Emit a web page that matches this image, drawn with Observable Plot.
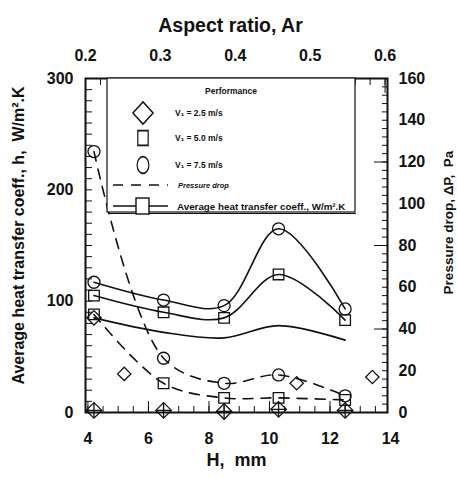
<!DOCTYPE html>
<html><head><meta charset="utf-8">
<script src="https://cdn.jsdelivr.net/npm/d3@7"></script>
<script src="https://cdn.jsdelivr.net/npm/@observablehq/plot@0.6"></script>
<style>body{margin:0;background:#fff} svg{display:block}</style>
</head><body><div id="chart"></div>
<script>
// ---- data ----
const H = [4.2, 6.5, 8.5, 10.3, 12.5];
const h75 = [117, 101, 96, 165, 93];
const h50 = [105, 90, 85, 124, 83];
const h25 = [85, 72, 67, 78, 65];
const dp75 = [125, 26, 14, 18, 8];
const dp50 = [47, 14, 7, 7, 6];
const dp25 = [1, 1, 0.5, 1.5, 1];
const extraH = [5.2, 10.9, 13.4];
const extraDp = [18.5, 14, 17];
const xTicks = [4, 6, 8, 10, 12, 14];
const hTicks = [0, 100, 200, 300];
const dpTicks = [0, 20, 40, 60, 80, 100, 120, 140, 160];
const arTicks = [0.2, 0.3, 0.4, 0.5, 0.6];
const legendLabels = ["V\u2081 = 2.5 m/s", "V\u2081 = 5.0 m/s", "V\u2081 = 7.5 m/s", "Pressure drop", "Average heat transfer coeff., W/m\u00b2.K"];

// ---- scale helpers ----
const dpToY = p => p * 300 / 160;
const yToDp = y => y * 160 / 300;
const arToH = a => 3.92 + (a - 0.2) * 24.75;
const hToAr = x => (x - 3.92) / 24.75 + 0.2;

const rows = H.map((x, i) => ({H: x, h75: h75[i], h50: h50[i], h25: h25[i],
  p75: dpToY(dp75[i]), p50: dpToY(dp50[i]), p25: dpToY(dp25[i])}));
const extra = extraH.map((x, i) => ({H: x, p: dpToY(extraDp[i])}));

const ink = "#111";
const font = {fontSize: 16, fontWeight: "bold", fill: ink};
const blank = () => "";

const plot = Plot.plot({
  width: 457, height: 478,
  marginLeft: 85, marginRight: 70, marginTop: 78, marginBottom: 66,
  style: {fontFamily: "'Liberation Sans', Arial, sans-serif", background: "#fff"},
  x: {domain: [3.92, 13.9], axis: null},
  y: {domain: [0, 300], axis: null},
  marks: [
    // heat transfer curves (solid)
    Plot.line(rows, {x: "H", y: "h75", curve: "catmull-rom", stroke: ink, strokeWidth: 1.6}),
    Plot.line(rows, {x: "H", y: "h50", curve: "catmull-rom", stroke: ink, strokeWidth: 1.6}),
    Plot.line(rows, {x: "H", y: "h25", curve: "catmull-rom", stroke: ink, strokeWidth: 1.6}),
    // pressure drop curves (dashed)
    Plot.line(rows, {x: "H", y: "p75", curve: "catmull-rom", stroke: ink, strokeWidth: 1.6, strokeDasharray: "10,8"}),
    Plot.line(rows, {x: "H", y: "p50", curve: "catmull-rom", stroke: ink, strokeWidth: 1.6, strokeDasharray: "10,8"}),
    // markers
    Plot.dot(rows, {x: "H", y: "h75", symbol: "circle", r: 6, stroke: ink, strokeWidth: 1.3}),
    Plot.dot(rows, {x: "H", y: "h50", symbol: "square", r: 6, stroke: ink, strokeWidth: 1.3}),
    Plot.dot(rows.slice(0, 1), {x: "H", y: "h25", symbol: "diamond2", r: 6.5, stroke: ink, strokeWidth: 1.3}),
    Plot.dot(rows, {x: "H", y: "p75", symbol: "circle", r: 6, stroke: ink, strokeWidth: 1.3}),
    Plot.dot(rows, {x: "H", y: "p50", symbol: "square", r: 6, stroke: ink, strokeWidth: 1.3}),
    Plot.dot(rows, {x: "H", y: "p25", symbol: "diamond2", r: 7, stroke: ink, strokeWidth: 1.3}),
    Plot.dot(rows, {x: "H", y: "p25", symbol: "plus", r: 5, stroke: ink, strokeWidth: 1.3}),
    Plot.dot(extra, {x: "H", y: "p", symbol: "diamond2", r: 6, stroke: ink, strokeWidth: 1.3}),
    // frame
    Plot.frame({stroke: ink, strokeWidth: 2}),
    // left axis: inward ticks + labels
    Plot.axisY(d3.range(0, 301, 10), {anchor: "left", tickSize: 7, dx: 7, tickFormat: blank, label: null, stroke: ink}),
    Plot.axisY(hTicks, {anchor: "left", tickSize: 0, tickPadding: 12, label: null, ...font}),
    // right axis (pressure drop)
    Plot.axisY(d3.range(0, 161, 4).map(dpToY), {anchor: "right", tickSize: 6, dx: -6, tickFormat: blank, label: null, stroke: ink}),
    Plot.axisY([0, 40, 80, 120, 160].map(dpToY), {anchor: "right", tickSize: 14, dx: -14, tickFormat: blank, label: null, stroke: ink}),
    Plot.axisY(dpTicks.map(dpToY), {anchor: "right", tickSize: 0, tickPadding: 11, label: null, tickFormat: d => Math.round(yToDp(d)), ...font}),
    // bottom axis
    Plot.axisX(d3.range(4, 14, 0.5), {anchor: "bottom", tickSize: 6, dy: -6, tickFormat: blank, label: null, stroke: ink}),
    Plot.axisX(xTicks.slice(0, 5), {anchor: "bottom", tickSize: 11, dy: -11, tickFormat: blank, label: null, stroke: ink}),
    Plot.axisX(xTicks, {anchor: "bottom", tickSize: 0, tickPadding: 20, label: null, ...font}),
    // top axis (aspect ratio)
    Plot.axisX(d3.range(0.2, 0.601, 0.02).map(arToH), {anchor: "top", tickSize: 6, dy: 6, tickFormat: blank, label: null, stroke: ink}),
    Plot.axisX(arTicks.map(arToH), {anchor: "top", tickSize: 14, dy: 14, tickFormat: blank, label: null, stroke: ink}),
    Plot.axisX(arTicks.map(arToH), {anchor: "top", tickSize: 0, tickPadding: 18, label: null, tickFormat: d => hToAr(d).toFixed(1), ...font}),
    // axis titles
    Plot.text(["Aspect ratio, Ar"], {frameAnchor: "top", dx: -6, dy: -60, fontSize: 19.5, fontWeight: "bold", fill: ink}),
    Plot.text(["H,  mm"], {frameAnchor: "bottom", dy: 53, fontSize: 18, fontWeight: "bold", fill: ink}),
    Plot.text(["Average heat transfer coeff., h,  W/m\u00b2.K"], {frameAnchor: "left", textAnchor: "middle", dx: -67, dy: -10, rotate: -90, fontSize: 16, fontWeight: "bold", fill: ink}),
    Plot.text(["Pressure drop, \u0394P,  Pa"], {frameAnchor: "right", textAnchor: "middle", dx: 61, dy: -23, rotate: -90, fontSize: 13.5, fontWeight: "bold", fill: ink})
  ]
});
document.getElementById("chart").appendChild(plot);

// ---- legend (layout only) ----
const svg = d3.select(plot);
const g = svg.append("g").attr("font-family", "'Liberation Sans', Arial, sans-serif").attr("fill", ink).attr("text-anchor", "start");
g.append("rect").attr("x", 107).attr("y", 78).attr("width", 248).attr("height", 134)
  .attr("fill", "#fff").attr("stroke", ink).attr("stroke-width", 1.2);
g.append("line").attr("x1", 108).attr("x2", 356).attr("y1", 213.5).attr("y2", 213.5).attr("stroke", ink).attr("stroke-width", 1.2);
g.append("text").attr("x", 231).attr("y", 94).attr("text-anchor", "middle").attr("font-size", 8.5).attr("font-weight", "bold").text("Performance");
const symbols = [d3.symbolDiamond2, d3.symbolSquare2, d3.symbolCircle];
const ys = [113, 138, 165];
symbols.forEach((s, i) => {
  g.append("path").attr("d", d3.symbol(s, i === 2 ? 150 : (i === 0 ? 260 : 190))())
    .attr("transform", `translate(143,${ys[i]}) scale(${i === 0 ? "1,1.1" : "0.85,1.2"})`)
    .attr("fill", "none").attr("stroke", ink).attr("stroke-width", 1.4);
  g.append("text").attr("x", 175).attr("y", ys[i] + 3).attr("font-size", 8.5).attr("font-weight", "bold").text(legendLabels[i]);
});
g.append("line").attr("x1", 113).attr("x2", 168).attr("y1", 185).attr("y2", 185)
  .attr("stroke", ink).attr("stroke-width", 1.6).attr("stroke-dasharray", "10,8");
g.append("text").attr("x", 178).attr("y", 188).attr("font-size", 7.5).attr("font-weight", "bold").attr("font-style", "italic").text(legendLabels[3]);
g.append("line").attr("x1", 113).attr("x2", 168).attr("y1", 206).attr("y2", 206).attr("stroke", ink).attr("stroke-width", 1.6);
g.append("rect").attr("x", 136).attr("y", 198).attr("width", 13).attr("height", 16).attr("fill", "#fff").attr("stroke", ink).attr("stroke-width", 1.4);
g.append("text").attr("x", 177).attr("y", 209.5).attr("font-size", 9.8).attr("font-weight", "bold").text(legendLabels[4]);
</script>
</body></html>
